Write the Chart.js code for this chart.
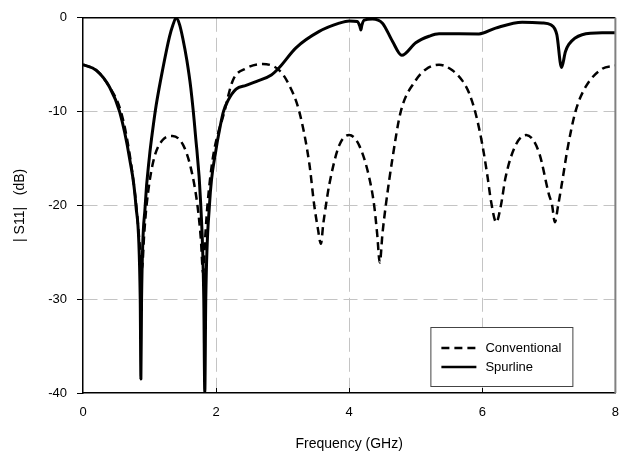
<!DOCTYPE html>
<html><head><meta charset="utf-8">
<script src="https://cdn.jsdelivr.net/npm/chart.js@4.4.0/dist/chart.umd.min.js"></script>
<style>html,body{margin:0;padding:0;background:#fff}#wrap{width:631px;height:459px}</style>
</head><body><div id="wrap"><canvas id="c" width="631" height="459"></canvas></div>
<script>
const freqConventional = [0,0.2,0.4,0.57,0.7,0.8,0.85,0.885,0.92,0.955,1.05,1.2,1.345,1.5,1.62,1.72,1.77,1.805,1.84,1.87,1.95,2.125,2.25,2.45,2.7,2.95,3.1,3.25,3.4,3.475,3.53,3.575,3.61,3.65,3.7,3.85,4.0,4.15,4.3,4.375,4.42,4.46,4.5,4.55,4.65,4.775,5.0,5.15,5.35,5.55,5.7,5.8,5.9,6.0,6.08,6.13,6.21,6.28,6.35,6.5,6.66,6.85,7.0,7.05,7.09,7.14,7.2,7.28,7.4,7.55,7.8,8.0];
const s11Conventional = [-5.0,-5.6,-7.4,-10,-14.5,-20,-24,-26.8,-23,-20,-15.5,-13.0,-12.6,-13.5,-16,-20,-23.5,-27.2,-23,-20,-15,-10,-6.7,-5.4,-4.93,-5.6,-7.2,-10,-15.5,-20,-22.5,-24.1,-22,-20,-17.8,-13.6,-12.5,-13.6,-17,-20,-23,-26.1,-23,-20,-15,-10,-6.66,-5.5,-5.0,-5.6,-6.7,-8.0,-10.2,-13.5,-17,-19.5,-21.8,-20,-17,-13.6,-12.5,-14.3,-18.8,-20,-21.8,-20,-17.5,-14,-10,-7.4,-5.45,-5.1];
const freqSpurline = [0,0.2,0.4,0.55,0.7,0.795,0.86,0.87,0.88,0.935,1.0,1.05,1.1,1.2,1.3,1.35,1.4,1.45,1.5,1.56,1.62,1.69,1.77,1.815,1.83,1.845,1.9,2.0,2.05,2.11,2.18,2.3,2.45,2.6,2.83,2.95,3.2,3.55,3.85,4.0,4.12,4.16,4.175,4.19,4.225,4.35,4.5,4.65,4.79,5.0,5.2,5.35,5.95,6.2,6.6,6.9,7.03,7.12,7.19,7.25,7.3,7.5,7.8,8.0];
const s11Spurline = [-5.0,-5.6,-7.4,-10,-15,-20,-30,-38.5,-30,-20,-14.7,-11.8,-9.3,-5.4,-2.0,-0.8,0,-0.7,-2.2,-4.5,-7.5,-12.5,-20,-30,-40,-30,-20,-14,-12,-10,-8.8,-7.6,-7.2,-6.8,-6.1,-5.3,-3.2,-1.45,-0.57,-0.33,-0.4,-0.9,-1.3,-0.8,-0.25,-0.12,-0.57,-2.5,-4.0,-2.66,-1.97,-1.7,-1.72,-1.1,-0.47,-0.55,-0.75,-1.8,-5.3,-3.6,-2.84,-1.8,-1.6,-1.6];
const xTicks = [0,2,4,6,8];
const yTicks = [0,-10,-20,-30,-40];
const seriesNames = ['Conventional','Spurline'];

const toPts = (xs, ys) => xs.map((x, i) => ({x: x, y: ys[i]}));
const gridCol = (edges) => (ctx) => (ctx.tick && edges.includes(ctx.tick.value)) ? 'rgba(0,0,0,0)' : '#c4c4c4';
const FONT = '"Liberation Sans", Arial, sans-serif';

const framePlugin = {
  id: 'frame',
  afterDatasetsDraw(chart) {
    const {ctx, chartArea: a, scales} = chart;
    ctx.save();
    ctx.strokeStyle = '#000'; ctx.lineWidth = 1.5;
    ctx.beginPath(); ctx.moveTo(a.left, a.top); ctx.lineTo(a.right, a.top); ctx.stroke();
    ctx.strokeStyle = '#808080'; ctx.lineWidth = 2;
    ctx.beginPath(); ctx.moveTo(a.right, a.top); ctx.lineTo(a.right, a.bottom); ctx.stroke();
    ctx.strokeStyle = '#000'; ctx.lineWidth = 1;
    xTicks.slice(1, -1).forEach(v => {
      const px = Math.round(scales.x.getPixelForValue(v)) + 0.5;
      ctx.beginPath(); ctx.moveTo(px, a.bottom); ctx.lineTo(px, a.bottom - 5); ctx.stroke();
    });
    const bx = a.right - 185, by = a.bottom - 66, bw = 142, bh = 59;
    ctx.fillStyle = '#fff'; ctx.fillRect(bx, by, bw, bh);
    ctx.strokeStyle = '#444'; ctx.lineWidth = 1;
    ctx.strokeRect(bx + 0.5, by + 0.5, bw, bh);
    chart.data.datasets.forEach((ds, i) => {
      const ly = by + 21 + i * 19;
      ctx.strokeStyle = ds.borderColor; ctx.lineWidth = 2.5;
      ctx.setLineDash(ds.borderDash || []);
      ctx.beginPath(); ctx.moveTo(bx + 11, ly); ctx.lineTo(bx + 46, ly); ctx.stroke();
      ctx.setLineDash([]);
      ctx.fillStyle = '#000'; ctx.font = '13px ' + FONT;
      ctx.textBaseline = 'middle'; ctx.textAlign = 'left';
      ctx.fillText(ds.label, bx + 55, ly);
    });
    ctx.restore();
  }
};

new Chart(document.getElementById('c'), {
  type: 'line',
  data: {
    datasets: [
      {label: seriesNames[0], data: toPts(freqConventional, s11Conventional), borderColor: '#000', borderWidth: 2.5, borderDash: [8, 5], pointRadius: 0, cubicInterpolationMode: 'monotone', fill: false},
      {label: seriesNames[1], data: toPts(freqSpurline, s11Spurline), borderColor: '#000', borderWidth: 3, pointRadius: 0, cubicInterpolationMode: 'monotone', fill: false, borderJoinStyle: 'round'}
    ]
  },
  options: {
    responsive: false, animation: false, devicePixelRatio: 1,
    layout: {padding: {top: 10, right: 14, left: 0, bottom: 0}},
    plugins: {legend: {display: false}, tooltip: {enabled: false}},
    scales: {
      x: {
        type: 'linear', min: 0, max: 8,
        afterBuildTicks: s => { s.ticks = xTicks.map(v => ({value: v})); },
        afterFit: s => { s.height = 66; },
        grid: {color: gridCol([0, 8]), lineWidth: 1, drawTicks: false},
        border: {color: '#000', width: 1.5, dash: [14, 6]},
        ticks: {color: '#000', padding: 12, font: {family: FONT, size: 13}, maxRotation: 0},
        title: {display: true, text: 'Frequency (GHz)', color: '#000', font: {family: FONT, size: 14}, padding: {top: 0, bottom: 6}}
      },
      y: {
        type: 'linear', min: -40, max: 0,
        afterBuildTicks: s => { s.ticks = yTicks.map(v => ({value: v})); },
        afterFit: s => { s.width = 83; },
        grid: {color: gridCol([0, -40]), lineWidth: 1, drawTicks: true, tickLength: 6, tickColor: '#000', tickWidth: 1},
        border: {color: '#000', width: 1.5, dash: [14, 6]},
        ticks: {color: '#000', padding: 10, font: {family: FONT, size: 13}},
        title: {display: true, text: '| S11|   (dB)', color: '#000', font: {family: FONT, size: 14}, padding: {top: 12, bottom: 0}}
      }
    }
  },
  plugins: [framePlugin]
});
</script>
</body></html>
